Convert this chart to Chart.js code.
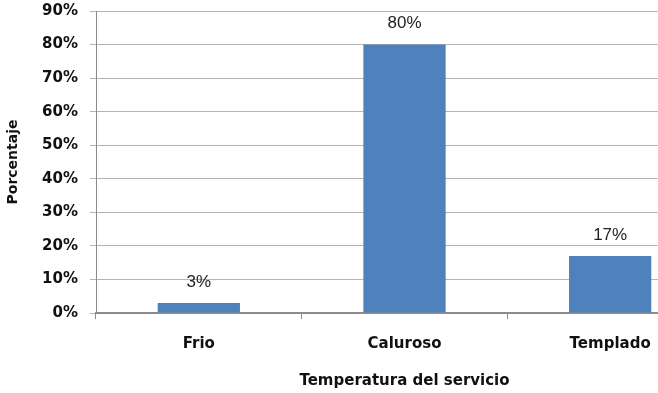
<!DOCTYPE html>
<html>
<head>
<meta charset="utf-8">
<script src="https://cdn.jsdelivr.net/npm/chart.js@4"></script>
<style>
  html, body { margin: 0; padding: 0; background: #fff; overflow: hidden; }
  #wrap { width: 714px; height: 393px; }
</style>
</head>
<body>
<div id="wrap"><canvas id="chart" width="714" height="393"></canvas></div>
<script>
const categories = ['Frio', 'Caluroso', 'Templado'];
const percentages = [3, 80, 17];
const yTicks = [0, 10, 20, 30, 40, 50, 60, 70, 80, 90];

const AXIS_FONT = { family: 'DejaVu Sans', size: 15, weight: 'bold' };

// value labels above each bar
const barLabels = {
  id: 'barLabels',
  afterDatasetsDraw(chart) {
    const ctx = chart.ctx;
    const meta = chart.getDatasetMeta(0);
    ctx.save();
    ctx.font = '17px "Liberation Sans"';
    ctx.fillStyle = '#222';
    ctx.textAlign = 'center';
    ctx.textBaseline = 'middle';
    meta.data.forEach((bar, i) => {
      ctx.fillText(percentages[i] + '%', bar.x, bar.y - 21);
    });
    ctx.restore();
  }
};

new Chart(document.getElementById('chart'), {
  type: 'bar',
  data: {
    labels: categories,
    datasets: [{
      data: percentages,
      backgroundColor: '#4F81BD',
      barPercentage: 0.4,
      categoryPercentage: 1
    }]
  },
  options: {
    responsive: false,
    animation: false,
    layout: { padding: { top: 11, right: 1, left: 0, bottom: 0 } },
    plugins: { legend: { display: false }, tooltip: { enabled: false } },
    scales: {
      x: {
        offset: true,
        grid: {
          offset: true,
          drawOnChartArea: false,
          drawTicks: true,
          tickLength: 6,
          color: '#8c8c8c'
        },
        border: { color: '#8c8c8c', width: 2 },
        ticks: { color: '#111', font: AXIS_FONT, padding: 16 },
        title: {
          display: true,
          text: 'Temperatura del servicio',
          color: '#111',
          font: AXIS_FONT,
          padding: { top: 12, bottom: 3 }
        },
        afterFit(scale) { scale.height = 80; }
      },
      y: {
        min: 0,
        max: 90,
        afterBuildTicks(scale) { scale.ticks = yTicks.map(v => ({ value: v })); },
        grid: { color: '#b4b4b4', tickLength: 6, drawTicks: true },
        border: { color: '#8c8c8c' },
        ticks: {
          color: '#111',
          font: AXIS_FONT,
          padding: 12,
          callback: v => v + '%'
        },
        title: {
          display: true,
          text: 'Porcentaje',
          color: '#111',
          font: { family: 'DejaVu Sans', size: 14, weight: 'bold' },
          padding: { top: 5, bottom: 10 }
        },
        afterFit(scale) {
          scale.width = 96;
          scale.paddingTop = 0;
          scale.paddingBottom = 0;
        }
      }
    }
  },
  plugins: [barLabels]
});
</script>
</body>
</html>
